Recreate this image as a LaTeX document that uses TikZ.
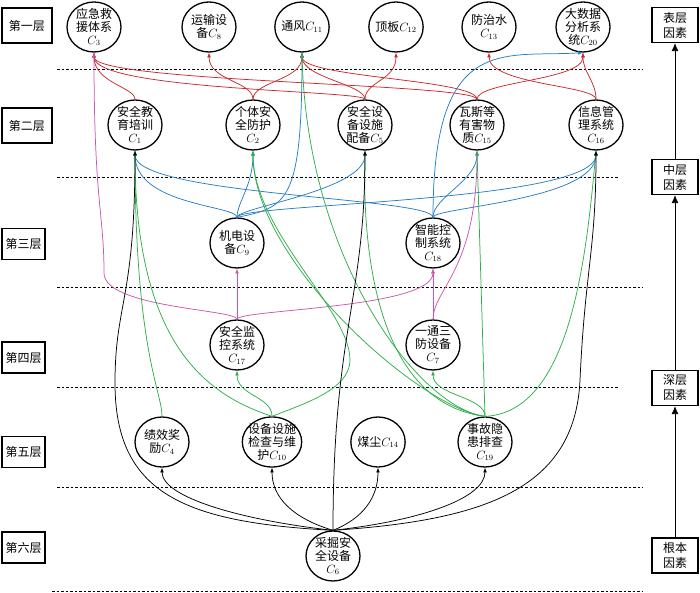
\documentclass[tikz,border=0pt]{standalone}
\usepackage{fontspec}
\newfontfamily\cjk{Noto Sans CJK SC}
\usepackage{tikz}
\usetikzlibrary{shapes.geometric}
\usetikzlibrary{arrows.meta}
\definecolor{linkred}{RGB}{205,40,45}
\definecolor{linkblue}{RGB}{40,125,200}
\definecolor{linkgreen}{RGB}{45,175,75}
\definecolor{linkpink}{RGB}{205,85,175}

\begin{document}
\begin{tikzpicture}[x=1pt,y=1pt,
    font=\cjk\fontsize{12}{13}\selectfont,
    factorn/.style={draw, ellipse, line width=1.3pt, minimum width=54pt,
      minimum height=50pt, inner sep=-1.5pt, align=center},
    leveln/.style={draw, line width=1.2pt, minimum width=43pt,
      minimum height=31pt, inner sep=1pt},
    typen/.style={draw, line width=1.2pt, minimum width=46pt,
      minimum height=35pt, align=center, font=\cjk\fontsize{12}{15}\selectfont},
    sepline/.style={dash pattern=on 2.5pt off 2pt, line width=0.8pt},
    typearrow/.style={line width=0.8pt, -{Latex[length=8pt,width=7pt]}},
    link/.style={line width=0.75pt, -{Latex[length=4.8pt,width=3.8pt]}},
    redl/.style={link, draw=linkred},
    bluel/.style={link, draw=linkblue},
    greenl/.style={link, draw=linkgreen},
    pinkl/.style={link, draw=linkpink},
    blackl/.style={link, draw=black}]
  \useasboundingbox (0,0) rectangle (700,593);
  \draw[sepline] (57,524) -- (643,524);
  \draw[sepline] (57,416) -- (618,416);
  \draw[sepline] (57,306) -- (643,306);
  \draw[sepline] (57,206) -- (618,206);
  \draw[sepline] (57,106) -- (643,106);
  \draw[sepline] (52,1.5) -- (643,1.5);
  \node[leveln, minimum width=50pt, minimum height=35pt] (l1) at (27,567.5) {第一层};
  \node[leveln, minimum width=50pt, minimum height=35pt] (l2) at (27,467.5) {第二层};
  \node[leveln] (l3) at (23.5,349) {第三层};
  \node[leveln] (l4) at (23.5,235.5) {第四层};
  \node[leveln] (l5) at (23.5,141) {第五层};
  \node[leveln] (l6) at (23.5,45.5) {第六层};
  \node[typen] (t1) at (675,568) {表层\\因素};
  \node[typen] (t2) at (675,416) {中层\\因素};
  \node[typen] (t3) at (675,205) {深层\\因素};
  \node[typen] (t4) at (675,37.5) {根本\\因素};
  \draw[typearrow] (t2.north) -- (t1.south);
  \draw[typearrow] (t3.north) -- (t2.south);
  \draw[typearrow] (t4.north) -- (t3.south);
  \node[factorn] (c3) at (94,566) {应急救\\援体系\\$C_{3}$};
  \node[factorn] (c8) at (209,566) {运输设\\备$C_{8}$};
  \node[factorn] (c11) at (302,566) {通风$C_{11}$};
  \node[factorn] (c12) at (396,566) {顶板$C_{12}$};
  \node[factorn] (c13) at (489,566) {防治水\\$C_{13}$};
  \node[factorn] (c20) at (583,566) {大数据\\分析系\\统$C_{20}$};
  \node[factorn] (c1) at (135,468) {安全教\\育培训\\$C_{1}$};
  \node[factorn] (c2) at (253,468) {个体安\\全防护\\$C_{2}$};
  \node[factorn] (c5) at (365,468) {安全设\\备设施\\配备$C_{5}$};
  \node[factorn] (c15) at (477,468) {瓦斯等\\有害物\\质$C_{15}$};
  \node[factorn] (c16) at (596,468) {信息管\\理系统\\$C_{16}$};
  \node[factorn] (c9) at (237,350) {机电设\\备$C_{9}$};
  \node[factorn] (c18) at (433,350) {智能控\\制系统\\$C_{18}$};
  \node[factorn] (c17) at (237,248) {安全监\\控系统\\$C_{17}$};
  \node[factorn] (c7) at (433,248) {一通三\\防设备\\$C_{7}$};
  \node[factorn] (c4) at (162,151) {绩效奖\\励$C_{4}$};
  \node[factorn, inner xsep=-3pt] (c10) at (272,151) {设备设施\\检查与维\\护$C_{10}$};
  \node[factorn] (c14) at (378,151) {煤尘$C_{14}$};
  \node[factorn] (c19) at (485,151) {事故隐\\患排查\\$C_{19}$};
  \node[factorn] (c6) at (333,37) {采掘安\\全设备\\$C_{6}$};
  \draw[redl] (c1.north) .. controls +(0,12) and +(0,-30) .. (c3.south);
  \draw[redl] (c5.north) .. controls +(0,9) and +(0,-38) .. (c3.south);
  \draw[redl] (c15.north) .. controls +(0,16) and +(0,-30) .. (c3.south);
  \draw[redl] (c2.north) .. controls +(0,18) and +(0,-28) .. (c8.south);
  \draw[redl] (c2.north) .. controls +(0,18) and +(0,-28) .. (c11.south);
  \draw[redl] (c5.north) .. controls +(0,15) and +(0,-25) .. (c11.south);
  \draw[redl] (c15.north) .. controls +(0,20) and +(0,-25) .. (c11.south);
  \draw[redl] (c5.north) .. controls +(0,18) and +(0,-28) .. (c12.south);
  \draw[redl] (c15.north) .. controls +(0,18) and +(0,-28) .. (c20.south);
  \draw[redl] (c16.north) .. controls +(0,18) and +(0,-20) .. (c20.south);
  \draw[redl] (c16.north) .. controls +(0,14) and +(0,-32) .. (c13.south);
  \draw[bluel] (c9.north) .. controls +(0,12) and +(0,-55) .. (c1.south);
  \draw[bluel] (c9.north) .. controls +(0,15) and +(0,-35) .. (c2.south);
  \draw[bluel] (c9.north) .. controls +(50,10) and +(0,-150) .. (c11.south);
  \draw[bluel] (c9.north) .. controls +(0,10) and +(0,-40) .. (c5.south);
  \draw[bluel] (c9.north) .. controls +(0,14) and +(0,-52) .. (c16.south);
  \draw[bluel] (c18.north) .. controls +(0,20) and +(0,-45) .. (c1.south);
  \draw[bluel] (c18.north) .. controls +(0,20) and +(0,-30) .. (c15.south);
  \draw[bluel] (c18.north) .. controls +(0,10) and +(0,-50) .. (c16.south);
  \draw[bluel] (c18.north) .. controls +(0,185) and +(-80,-5) .. (c20.south);
  \draw[pinkl] (c17.north) -- (c9.south);
  \draw[pinkl] (c17.north) .. controls +(0,10) and +(0,-35) .. (104,320)
    .. controls +(0,60) and +(0,-150) .. (c3.south);
  \draw[pinkl] (c17.north) .. controls +(0,10) and +(0,-40) .. (c18.south);
  \draw[pinkl] (c7.north) -- (c18.south);
  \draw[pinkl] (c7.north) .. controls +(0,30) and +(0,-120) .. (c15.south);
  \draw[greenl] (c4.north) .. controls +(0,25) and +(0,-200) .. (c1.south);
  \draw[greenl] (c10.north) .. controls +(-60,20) and +(0,-200) .. (c1.south);
  \draw[greenl] (c10.north) .. controls +(0,20) and +(0,-25) .. (c17.south);
  \draw[greenl] (c10.north) .. controls +(30,12) and +(0,-30) .. (350,233)
    .. controls +(0,50) and +(0,-80) .. (c2.south);
  \draw[greenl] (c19.north) .. controls +(0,20) and +(0,-25) .. (c7.south);
  \draw[greenl] (c19.north) -- (c15.south);
  \draw[greenl] (c19.north) .. controls +(85,4) and +(-10,-110) .. (c16.south);
  \draw[greenl] (c19.north) .. controls +(-65,8) and +(0,-110) .. (c2.south);
  \draw[greenl] (c19.north) .. controls +(-65,8) and +(5,-210) .. (c11.south);
  \draw[greenl] (c19.north) .. controls +(-105,13) and +(-3,-110) .. (c5.south);
  \draw[blackl] (c6.north) .. controls +(-90,10) and +(0,-30) .. (c4.south);
  \draw[blackl] (c6.north) .. controls +(-40,12) and +(0,-30) .. (c10.south);
  \draw[blackl] (c6.north) .. controls +(30,12) and +(0,-30) .. (c14.south);
  \draw[blackl] (c6.north) .. controls +(90,10) and +(0,-30) .. (c19.south);
  \draw[blackl] (c6.north) .. controls +(-150,8) and +(0,-110) .. (115,210)
    .. controls +(0,80) and +(0,-150) .. (c1.south);
  \draw[blackl] (c6.north) .. controls +(0,200) and +(0,-150) .. (c5.south);
  \draw[blackl] (c6.north) .. controls +(150,10) and +(-5,-110) .. (580,213)
    .. controls +(5,110) and +(0,-100) .. (c16.south);
\end{tikzpicture}
\end{document}
